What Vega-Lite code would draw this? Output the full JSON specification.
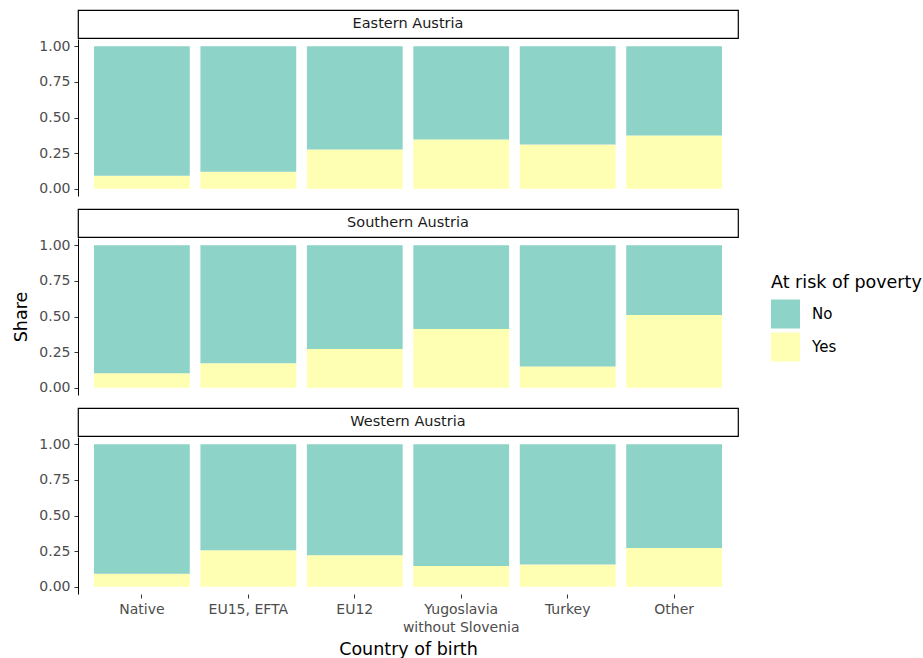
{
  "$schema": "https://vega.github.io/schema/vega-lite/v6.json",
  "background": "white",
  "padding": {"left": 12, "top": 9, "right": 5, "bottom": 5},
  "config": {
    "font": "DejaVu Sans",
    "view": {"stroke": null},
    "legend": {
      "titleFontSize": 17.5, "titleFontWeight": "normal", "titleColor": "black",
      "labelFontSize": 15, "labelColor": "black",
      "symbolType": "square", "symbolSize": 841, "symbolStrokeWidth": 0, "symbolOpacity": 1,
      "rowPadding": 4, "titlePadding": 8, "labelOffset": 12
    },
    "axis": {
      "labelFontSize": 14, "labelColor": "#4d4d4d", "tickColor": "#333333", "tickSize": 4,
      "labelPadding": 4, "domainColor": "black", "grid": false,
      "titleFontSize": 17.5, "titleFontWeight": "normal", "titleColor": "black"
    }
  },
  "datasets": {
    "bars": [
      {"region": "Eastern Austria", "country": "Native", "risk": "Yes", "share": 0.092},
      {"region": "Eastern Austria", "country": "Native", "risk": "No", "share": 0.908},
      {"region": "Eastern Austria", "country": "EU15, EFTA", "risk": "Yes", "share": 0.12},
      {"region": "Eastern Austria", "country": "EU15, EFTA", "risk": "No", "share": 0.88},
      {"region": "Eastern Austria", "country": "EU12", "risk": "Yes", "share": 0.276},
      {"region": "Eastern Austria", "country": "EU12", "risk": "No", "share": 0.724},
      {"region": "Eastern Austria", "country": "Yugoslavia without Slovenia", "risk": "Yes", "share": 0.345},
      {"region": "Eastern Austria", "country": "Yugoslavia without Slovenia", "risk": "No", "share": 0.655},
      {"region": "Eastern Austria", "country": "Turkey", "risk": "Yes", "share": 0.31},
      {"region": "Eastern Austria", "country": "Turkey", "risk": "No", "share": 0.69},
      {"region": "Eastern Austria", "country": "Other", "risk": "Yes", "share": 0.374},
      {"region": "Eastern Austria", "country": "Other", "risk": "No", "share": 0.626},
      {"region": "Southern Austria", "country": "Native", "risk": "Yes", "share": 0.102},
      {"region": "Southern Austria", "country": "Native", "risk": "No", "share": 0.898},
      {"region": "Southern Austria", "country": "EU15, EFTA", "risk": "Yes", "share": 0.172},
      {"region": "Southern Austria", "country": "EU15, EFTA", "risk": "No", "share": 0.828},
      {"region": "Southern Austria", "country": "EU12", "risk": "Yes", "share": 0.273},
      {"region": "Southern Austria", "country": "EU12", "risk": "No", "share": 0.727},
      {"region": "Southern Austria", "country": "Yugoslavia without Slovenia", "risk": "Yes", "share": 0.413},
      {"region": "Southern Austria", "country": "Yugoslavia without Slovenia", "risk": "No", "share": 0.587},
      {"region": "Southern Austria", "country": "Turkey", "risk": "Yes", "share": 0.149},
      {"region": "Southern Austria", "country": "Turkey", "risk": "No", "share": 0.851},
      {"region": "Southern Austria", "country": "Other", "risk": "Yes", "share": 0.51},
      {"region": "Southern Austria", "country": "Other", "risk": "No", "share": 0.49},
      {"region": "Western Austria", "country": "Native", "risk": "Yes", "share": 0.092},
      {"region": "Western Austria", "country": "Native", "risk": "No", "share": 0.908},
      {"region": "Western Austria", "country": "EU15, EFTA", "risk": "Yes", "share": 0.256},
      {"region": "Western Austria", "country": "EU15, EFTA", "risk": "No", "share": 0.744},
      {"region": "Western Austria", "country": "EU12", "risk": "Yes", "share": 0.221},
      {"region": "Western Austria", "country": "EU12", "risk": "No", "share": 0.779},
      {"region": "Western Austria", "country": "Yugoslavia without Slovenia", "risk": "Yes", "share": 0.147},
      {"region": "Western Austria", "country": "Yugoslavia without Slovenia", "risk": "No", "share": 0.853},
      {"region": "Western Austria", "country": "Turkey", "risk": "Yes", "share": 0.157},
      {"region": "Western Austria", "country": "Turkey", "risk": "No", "share": 0.843},
      {"region": "Western Austria", "country": "Other", "risk": "Yes", "share": 0.273},
      {"region": "Western Austria", "country": "Other", "risk": "No", "share": 0.727}
    ]
  },
  "spacing": 12,
  "resolve": {"legend": {"color": "independent"}},
  "vconcat": [
    {
      "spacing": 0,
      "vconcat": [
        {
          "width": 660, "height": 28,
          "data": {"values": [{"label": "Eastern Austria"}]},
          "mark": {"type": "text", "fontSize": 14.5, "color": "#1a1a1a"},
          "encoding": {"text": {"field": "label", "type": "nominal"}},
          "view": {"stroke": "black", "strokeWidth": 1.2, "fill": "white"}
        },
        {
          "width": 660, "height": 157,
          "data": {"name": "bars"},
          "transform": [{"filter": "datum.region == 'Eastern Austria'"}],
          "mark": {"type": "bar"},
          "encoding": {
            "x": {"field": "country", "type": "nominal", "sort": ["Native", "EU15, EFTA", "EU12", "Yugoslavia without Slovenia", "Turkey", "Other"], "scale": {"paddingInner": 0.1, "paddingOuter": 0.15}, "axis": null},
            "y": {"field": "share", "type": "quantitative", "stack": "zero", "scale": {"domain": [-0.05, 1.05], "nice": false, "zero": false}, "axis": {"values": [0, 0.25, 0.5, 0.75, 1], "format": ".2f", "title": "Share", "titleOpacity": 0, "titlePadding": 8}},
            "color": {"field": "risk", "type": "nominal", "scale": {"domain": ["No", "Yes"], "range": ["#8DD3C7", "#FFFFB3"]}, "legend": null},
            "order": {"field": "risk", "sort": "descending"}
          }
        }
      ]
    },
    {
      "spacing": 0,
      "resolve": {"legend": {"color": "independent"}},
      "vconcat": [
        {
          "width": 660, "height": 28,
          "data": {"values": [{"label": "Southern Austria"}]},
          "mark": {"type": "text", "fontSize": 14.5, "color": "#1a1a1a"},
          "encoding": {"text": {"field": "label", "type": "nominal"}},
          "view": {"stroke": "black", "strokeWidth": 1.2, "fill": "white"}
        },
        {
          "width": 660, "height": 157,
          "data": {"name": "bars"},
          "transform": [{"filter": "datum.region == 'Southern Austria'"}],
          "mark": {"type": "bar"},
          "encoding": {
            "x": {"field": "country", "type": "nominal", "sort": ["Native", "EU15, EFTA", "EU12", "Yugoslavia without Slovenia", "Turkey", "Other"], "scale": {"paddingInner": 0.1, "paddingOuter": 0.15}, "axis": null},
            "y": {"field": "share", "type": "quantitative", "stack": "zero", "scale": {"domain": [-0.05, 1.05], "nice": false, "zero": false}, "axis": {"values": [0, 0.25, 0.5, 0.75, 1], "format": ".2f", "title": "Share", "titlePadding": 8}},
            "color": {"field": "risk", "type": "nominal", "scale": {"domain": ["No", "Yes"], "range": ["#8DD3C7", "#FFFFB3"]}, "legend": {"title": "At risk of poverty", "orient": "none", "legendX": 693, "legendY": 36}},
            "order": {"field": "risk", "sort": "descending"}
          }
        }
      ]
    },
    {
      "spacing": 0,
      "vconcat": [
        {
          "width": 660, "height": 28,
          "data": {"values": [{"label": "Western Austria"}]},
          "mark": {"type": "text", "fontSize": 14.5, "color": "#1a1a1a"},
          "encoding": {"text": {"field": "label", "type": "nominal"}},
          "view": {"stroke": "black", "strokeWidth": 1.2, "fill": "white"}
        },
        {
          "width": 660, "height": 157,
          "data": {"name": "bars"},
          "transform": [{"filter": "datum.region == 'Western Austria'"}],
          "mark": {"type": "bar"},
          "encoding": {
            "x": {"field": "country", "type": "nominal", "sort": ["Native", "EU15, EFTA", "EU12", "Yugoslavia without Slovenia", "Turkey", "Other"], "scale": {"paddingInner": 0.1, "paddingOuter": 0.15}, "axis": {"title": "Country of birth", "labelAngle": 0, "domain": false, "ticks": true, "labelPadding": 4, "titlePadding": 6, "labelLineHeight": 18, "labelExpr": "datum.label == 'Yugoslavia without Slovenia' ? ['Yugoslavia', 'without Slovenia'] : datum.label"}},
            "y": {"field": "share", "type": "quantitative", "stack": "zero", "scale": {"domain": [-0.05, 1.05], "nice": false, "zero": false}, "axis": {"values": [0, 0.25, 0.5, 0.75, 1], "format": ".2f", "title": "Share", "titleOpacity": 0, "titlePadding": 8}},
            "color": {"field": "risk", "type": "nominal", "scale": {"domain": ["No", "Yes"], "range": ["#8DD3C7", "#FFFFB3"]}, "legend": null},
            "order": {"field": "risk", "sort": "descending"}
          }
        }
      ]
    }
  ]
}
